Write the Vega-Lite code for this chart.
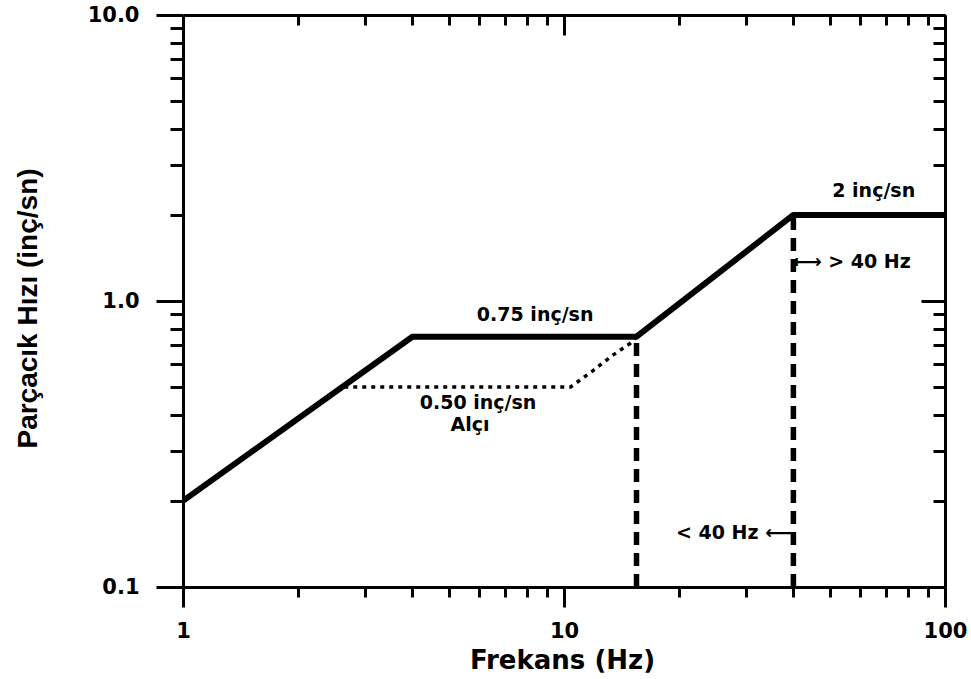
{
  "$schema": "https://vega.github.io/schema/vega-lite/v6.json",
  "autosize": {"type": "none"},
  "padding": {"left": 183, "top": 15, "right": 26, "bottom": 92},
  "width": 762,
  "height": 572,
  "background": "white",
  "config": {
    "view": {"stroke": null},
    "axis": {
      "grid": false,
      "domainColor": "black",
      "domainWidth": 3,
      "tickColor": "black",
      "tickWidth": 3,
      "labelFont": "DejaVu Sans",
      "labelFontWeight": "bold",
      "labelFontSize": 21,
      "labelColor": "black",
      "titleColor": "black"
    }
  },
  "datasets": {
    "main": [
      {"f": 1, "v": 0.2},
      {"f": 4, "v": 0.75},
      {"f": 15.5, "v": 0.75},
      {"f": 40, "v": 2},
      {"f": 100, "v": 2}
    ],
    "plaster": [
      {"f": 2.65, "v": 0.5},
      {"f": 10.4, "v": 0.5},
      {"f": 11.9, "v": 0.57},
      {"f": 13.4, "v": 0.645},
      {"f": 14.9, "v": 0.71},
      {"f": 15.5, "v": 0.75}
    ],
    "cutoffs": [
      {"f": 15.5, "v0": 0.1, "v1": 0.75},
      {"f": 40, "v0": 0.1, "v1": 2}
    ],
    "notesCenter": [
      {"f": 8.4, "v": 0.893, "t": "0.75 inç/sn"},
      {"f": 5.95, "v": 0.44, "t": "0.50 inç/sn"},
      {"f": 5.67, "v": 0.368, "t": "Alçı"},
      {"f": 65, "v": 2.43, "t": "2 inç/sn"}
    ],
    "notesLeft": [
      {"f": 40, "v": 1.37, "t": "⟼ >  40 Hz"}
    ],
    "notesRight": [
      {"f": 40, "v": 0.155, "t": "<  40 Hz ⟵"}
    ]
  },
  "layer": [
    {
      "data": {"name": "main"},
      "mark": {"type": "line", "color": "black", "strokeWidth": 6, "strokeJoin": "round", "strokeCap": "round", "clip": true},
      "encoding": {
        "x": {
          "field": "f", "type": "quantitative",
          "scale": {"type": "log", "domain": [1, 100], "nice": false},
          "axis": {
            "orient": "bottom",
            "values": [1, 2, 3, 4, 5, 6, 7, 8, 9, 10, 20, 30, 40, 50, 60, 70, 80, 90, 100],
            "labelExpr": "datum.value == 1 || datum.value == 10 || datum.value == 100 ? format(datum.value, 'd') : ''",
            "tickSize": {"condition": {"test": "datum.value == 1 || datum.value == 10 || datum.value == 100", "value": 20}, "value": 10},
            "labelPadding": 13,
            "labelFlush": false,
            "labelOverlap": false,
            "title": "Frekans (Hz)",
            "titleFont": "DejaVu Sans",
            "titleFontWeight": "bold",
            "titleFontSize": 26,
            "titleX": 379,
            "titleY": 73,
            "titleBaseline": "middle",
            "titleAlign": "center"
          }
        },
        "y": {
          "field": "v", "type": "quantitative",
          "scale": {"type": "log", "domain": [0.1, 10], "nice": false},
          "axis": {
            "orient": "left",
            "values": [0.1, 0.2, 0.3, 0.4, 0.5, 0.6, 0.7, 0.8, 0.9, 1, 2, 3, 4, 5, 6, 7, 8, 9, 10],
            "labelExpr": "datum.value == 0.1 || datum.value == 1 || datum.value == 10 ? format(datum.value, '.1f') : ''",
            "tickSize": {"condition": {"test": "datum.value == 0.1 || datum.value == 1 || datum.value == 10", "value": 27}, "value": 13},
            "labelPadding": 17,
            "labelFlush": false,
            "labelOverlap": false,
            "title": "Parçacık Hızı (inç/sn)",
            "titleFont": "Liberation Sans",
            "titleFontWeight": "bold",
            "titleFontSize": 28,
            "titleAngle": -90,
            "titleX": -155,
            "titleY": 293,
            "titleAlign": "center",
            "titleBaseline": "middle"
          }
        }
      }
    },
    {
      "data": {"name": "plaster"},
      "mark": {"type": "line", "color": "black", "strokeWidth": 3.5, "strokeDash": [4, 5], "clip": true},
      "encoding": {
        "x": {
          "field": "f", "type": "quantitative",
          "axis": {
            "orient": "top",
            "values": [1, 2, 3, 4, 5, 6, 7, 8, 9, 10, 20, 30, 40, 50, 60, 70, 80, 90, 100],
            "labels": false,
            "title": null,
            "tickSize": {"condition": {"test": "datum.value == 1 || datum.value == 10 || datum.value == 100", "value": -20}, "value": -10}
          }
        },
        "y": {
          "field": "v", "type": "quantitative",
          "axis": {
            "orient": "right",
            "values": [0.1, 0.2, 0.3, 0.4, 0.5, 0.6, 0.7, 0.8, 0.9, 1, 2, 3, 4, 5, 6, 7, 8, 9, 10],
            "labels": false,
            "title": null,
            "tickSize": {"condition": {"test": "datum.value == 0.1 || datum.value == 1 || datum.value == 10", "value": -24}, "value": -12}
          }
        }
      }
    },
    {
      "data": {"name": "cutoffs"},
      "mark": {"type": "rule", "color": "black", "strokeWidth": 5.5, "strokeDash": [13, 8]},
      "encoding": {
        "x": {"field": "f", "type": "quantitative", "axis": null},
        "y": {"field": "v0", "type": "quantitative", "axis": null},
        "y2": {"field": "v1"}
      }
    },
    {
      "data": {"name": "notesCenter"},
      "mark": {"type": "text", "font": "DejaVu Sans", "fontWeight": "bold", "fontSize": 19, "align": "center", "baseline": "middle", "color": "black"},
      "encoding": {
        "x": {"field": "f", "type": "quantitative", "axis": null},
        "y": {"field": "v", "type": "quantitative", "axis": null},
        "text": {"field": "t"}
      }
    },
    {
      "data": {"name": "notesLeft"},
      "mark": {"type": "text", "font": "DejaVu Sans", "fontWeight": "bold", "fontSize": 19, "align": "left", "baseline": "middle", "dx": 1, "color": "black"},
      "encoding": {
        "x": {"field": "f", "type": "quantitative", "axis": null},
        "y": {"field": "v", "type": "quantitative", "axis": null},
        "text": {"field": "t"}
      }
    },
    {
      "data": {"name": "notesRight"},
      "mark": {"type": "text", "font": "DejaVu Sans", "fontWeight": "bold", "fontSize": 19, "align": "right", "baseline": "middle", "dx": -1, "color": "black"},
      "encoding": {
        "x": {"field": "f", "type": "quantitative", "axis": null},
        "y": {"field": "v", "type": "quantitative", "axis": null},
        "text": {"field": "t"}
      }
    }
  ],
  "resolve": {"axis": {"x": "independent", "y": "independent"}}
}
